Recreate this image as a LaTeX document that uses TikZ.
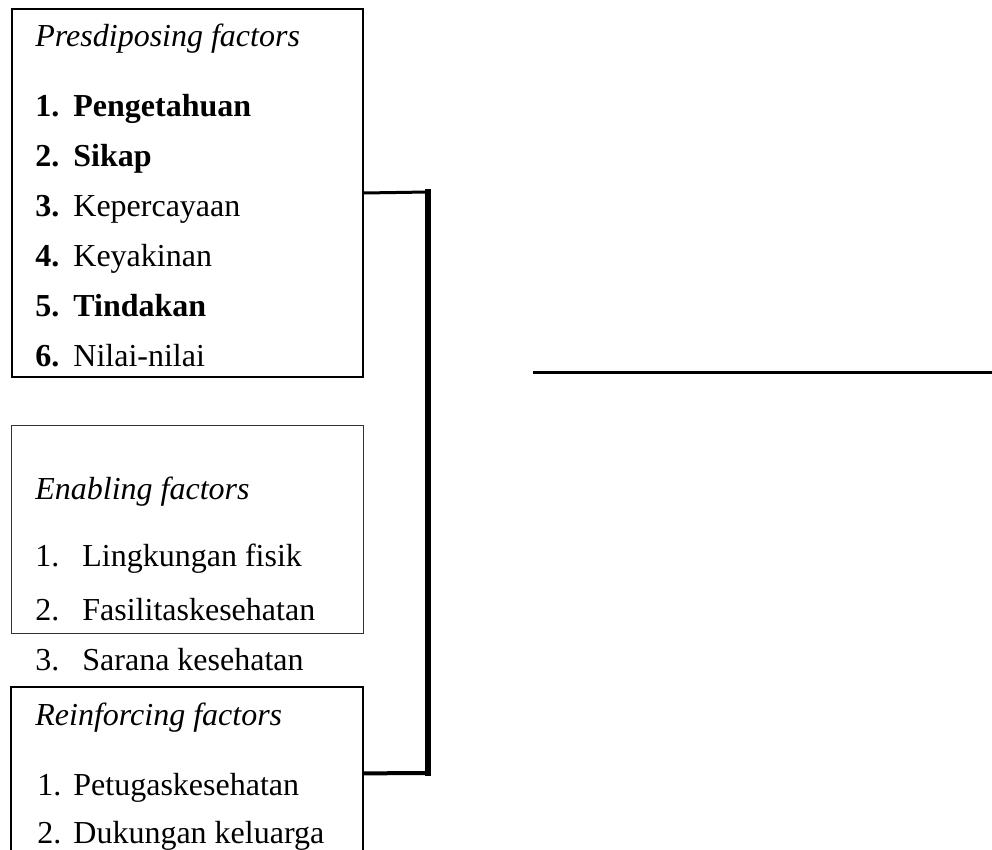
\documentclass[tikz,border=0pt]{standalone}
\usepackage{fontspec}
\setmainfont{Liberation Serif}
\begin{document}
\begin{tikzpicture}[x=0.5pt, y=-0.5pt, font=\fontsize{16}{19}\selectfont,
  box/.style={draw, inner sep=0pt, anchor=north west},
  txt/.style={inner sep=0pt, anchor=base west}]
\useasboundingbox (0,0) rectangle (992,850);
\node[box, line width=1pt, minimum width=175.5pt, minimum height=184pt] (pre) at (11,8) {};
\node[box, line width=0.6pt, draw=black!80, minimum width=176pt, minimum height=104pt] (ena) at (11,425) {};
\node[box, draw=none, minimum width=175.5pt, minimum height=81.5pt] (rei) at (11,687) {};
\draw[line width=1pt] (rei.south west) -- (rei.north west) -- (rei.north east) -- (rei.south east);
\coordinate (jt) at (428,192);
\coordinate (jb) at (428,773);
\coordinate (ol) at (533,373);
\coordinate (or) at (992,373);
\draw[line width=1.5pt] (pre.east) -- (jt);
\draw[line width=2.75pt, line cap=rect] (jt) -- (jb);
\draw[line width=2pt] (jb) -- ([yshift=-2.25pt]rei.east);
\draw[line width=1.5pt] (ol) -- (or);
\node[txt] (pt) at (35,47) {\itshape Presdiposing factors};
\node[txt] (p1n) at (35,117) {\bfseries 1.};
\node[txt] (p1) at (73,117) {\bfseries Pengetahuan};
\node[txt] (p2n) at (35,167) {\bfseries 2.};
\node[txt] (p2) at (73,167) {\bfseries Sikap};
\node[txt] (p3n) at (35,217) {\bfseries 3.};
\node[txt] (p3) at (73,217) {Kepercayaan};
\node[txt] (p4n) at (35,267) {\bfseries 4.};
\node[txt] (p4) at (73,267) {Keyakinan};
\node[txt] (p5n) at (35,317) {\bfseries 5.};
\node[txt] (p5) at (73,317) {\bfseries Tindakan};
\node[txt] (p6n) at (35,367) {\bfseries 6.};
\node[txt] (p6) at (73,367) {Nilai-nilai};
\node[txt] (et) at (35,500) {\itshape Enabling factors};
\node[txt] (e1n) at (35,567) {1.};
\node[txt] (e1) at (82,567) {Lingkungan fisik};
\node[txt] (e2n) at (35,620) {2.};
\node[txt] (e2) at (82,620) {Fasilitaskesehatan};
\node[txt] (e3n) at (35,670) {3.};
\node[txt] (e3) at (82,670) {Sarana kesehatan};
\node[txt] (rt) at (35,725) {\itshape Reinforcing factors};
\node[txt] (r1n) at (37,795) {1.};
\node[txt] (r1) at (73,795) {Petugaskesehatan};
\node[txt] (r2n) at (37,843) {2.};
\node[txt] (r2) at (73,843) {Dukungan keluarga};
\end{tikzpicture}
\end{document}
